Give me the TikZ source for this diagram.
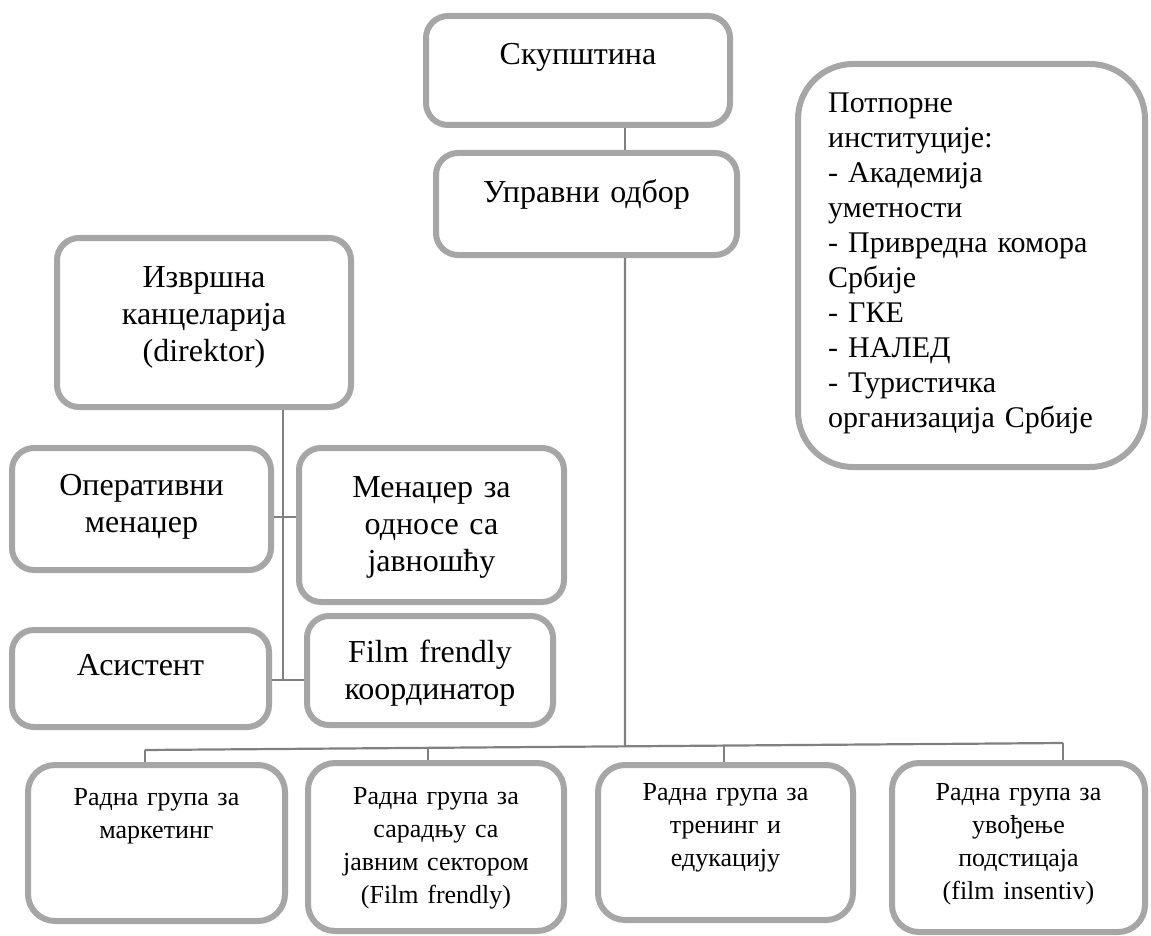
\documentclass[tikz,border=0pt]{standalone}
\usepackage{fontspec}
\setmainfont{Liberation Serif}
\usetikzlibrary{calc}
\definecolor{boxgray}{HTML}{A6A6A6}
\definecolor{linegray}{HTML}{808080}

\begin{document}
\begin{tikzpicture}[x=1pt,y=-1pt,
  box/.style={draw=boxgray, line width=6pt, rounded corners=22pt, fill=white, inner sep=0pt},
  wide/.style={rounded corners=55pt},
  lower/.style={rounded corners=27pt},
  bigtxt/.style={font=\fontsize{32}{37}\selectfont, align=center, anchor=base, inner sep=0pt, text width=250pt},
  listtxt/.style={font=\fontsize{30}{35}\selectfont, align=left, anchor=base west, inner sep=0pt, text width=310pt},
  smalltxt/.style={font=\fontsize{26}{33}\selectfont, align=center, anchor=base, inner sep=0pt, text width=245pt},
  link/.style={draw=linegray, line width=2.2pt}]
\useasboundingbox (0,0) rectangle (1151,936);

% upper governance boxes
\node[box, minimum width=304, minimum height=109] (skup) at (578,70.5) {};
\node[box, minimum width=301, minimum height=102] (upr) at (586.5,204) {};
\node[box, wide, minimum width=347, minimum height=403] (potp) at (971.5,265.5) {};

% executive office and staff
\node[box, minimum width=294, minimum height=169] (izv) at (204,322.5) {};
\node[box, minimum width=259, minimum height=122] (oper) at (141.5,509) {};
\node[box, minimum width=265, minimum height=154] (men) at (431.5,525) {};
\node[box, minimum width=257, minimum height=97] (asist) at (140.5,678.5) {};
\node[box, minimum width=246, minimum height=109] (film) at (430,670.5) {};

% working groups
\node[box, lower, minimum width=257, minimum height=156] (b1) at (156.5,843) {};
\node[box, lower, minimum width=256, minimum height=168] (b2) at (436,847) {};
\node[box, lower, minimum width=255, minimum height=155] (b3) at (725.5,842.5) {};
\node[box, lower, minimum width=253, minimum height=169] (b4) at (1018.5,847.5) {};

% labels
\node[bigtxt] (skupT) at (skup.center |- 0,65) {Скупштина};
\node[bigtxt] (uprT) at (upr.center |- 0,203) {Управни одбор};
\node[listtxt] (potpT) at (828,113) {Потпорне\\институције:\\- Академија\\уметности\\- Привредна комора\\Србије\\- ГКЕ\\- НАЛЕД\\- Туристичка\\организација Србије};
\node[bigtxt] (izvT) at (izv.center |- 0,287) {Извршна\\канцеларија\\(direktor)};
\node[bigtxt] (operT) at (oper.center |- 0,495) {Оперативни\\менаџер};
\node[bigtxt] (menT) at (men.center |- 0,497) {Менаџер за\\односе са\\јавношћу};
\node[bigtxt] (asistT) at (asist.center |- 0,675) {Асистент};
\node[bigtxt] (filmT) at (film.center |- 0,662) {Film frendly\\координатор};
\node[smalltxt] (b1T) at (b1.center |- 0,805) {Радна група за\\маркетинг};
\node[smalltxt] (b2T) at (b2.center |- 0,804) {Радна група за\\сарадњу са\\јавним сектором\\(Film frendly)};
\node[smalltxt] (b3T) at (b3.center |- 0,800) {Радна група за\\тренинг и\\едукацију};
\node[smalltxt] (b4T) at (b4.center |- 0,800) {Радна група за\\увођење\\подстицаја\\(film insentiv)};

% main spine and working-group bus
\coordinate (spine) at (625,0);
\coordinate (busL) at (145,750);
\coordinate (busR) at (1063,743);
\coordinate (busC) at ($(busL)!0.5229!(busR)$);
\coordinate (d2) at ($(busL)!0.3083!(busR)$);
\coordinate (d3) at ($(busL)!0.6307!(busR)$);
\draw[link] (skup.south -| spine) -- (upr.north -| spine);
\draw[link] (upr.south -| spine) -- (busC);
\draw[link] (busL) -- (busR);
\draw[link] (busL) -- (busL |- b1.north);
\draw[link] (d2) -- (d2 |- b2.north);
\draw[link] (d3) -- (d3 |- b3.north);
\draw[link] (busR) -- (busR |- b4.north);

% executive office links
\coordinate (h1) at (283,517);
\coordinate (h2) at (283,680);
\draw[link] (izv.south -| h1) -- (h2);
\draw[link] (oper.east |- h1) -- (men.west |- h1);
\draw[link] (asist.east |- h2) -- (film.west |- h2);
\end{tikzpicture}
\end{document}
